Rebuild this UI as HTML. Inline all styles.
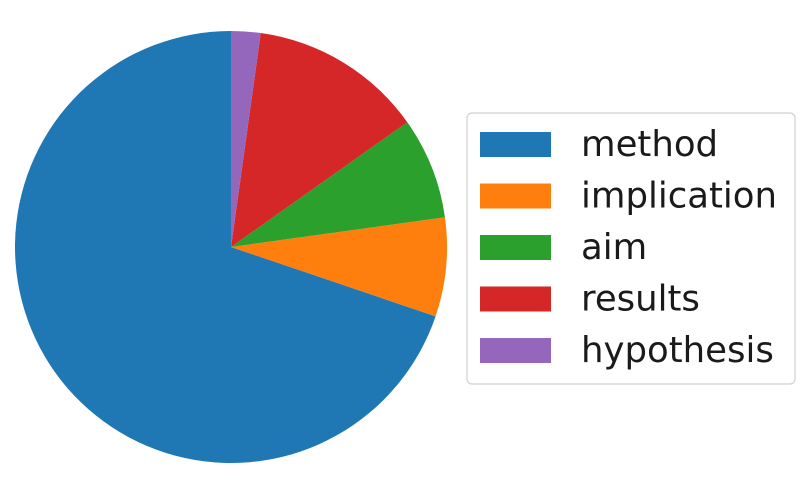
<!DOCTYPE html>
<html>
<head>
<meta charset="utf-8">
<style>
  html,body{margin:0;padding:0;background:#fff;}
  svg{display:block;}
  text{font-family:"DejaVu Sans","Liberation Sans",sans-serif;}
</style>
</head>
<body>
<svg id="chart" width="804" height="499" viewBox="0 0 804 499">
  <g id="slices"></g>
  <g id="legend">
    <rect x="467" y="113" width="328" height="271" rx="5" ry="5" fill="#fff" stroke="#d0d0d0" stroke-width="1.2"></rect>
  </g>
</svg>
<script>
const categories = ["method", "implication", "aim", "results", "hypothesis"];
const values = [69.8, 7.4, 7.6, 13.0, 2.2];
const colors = ["#1f77b4", "#ff7f0e", "#2ca02c", "#d62728", "#9467bd"];

const cx = 231, cy = 247, r = 216;
const total = values.reduce((a, b) => a + b, 0);
const NS = "http://www.w3.org/2000/svg";
const slicesG = document.getElementById("slices");
let start = 90;
function pt(deg) {
  const a = deg * Math.PI / 180;
  return [cx + r * Math.cos(a), cy - r * Math.sin(a)];
}
values.forEach((v, i) => {
  const span = v / total * 360;
  const end = start + span;
  const [x1, y1] = pt(start);
  const [x2, y2] = pt(end);
  const large = span > 180 ? 1 : 0;
  const p = document.createElementNS(NS, "path");
  p.setAttribute("d", `M${cx},${cy} L${x1},${y1} A${r},${r} 0 ${large} 0 ${x2},${y2} Z`);
  p.setAttribute("fill", colors[i]);
  
  
  slicesG.appendChild(p);
  start = end;
});

const legendG = document.getElementById("legend");
categories.forEach((c, i) => {
  const yc = 144 + i * 51.5;
  const sw = document.createElementNS(NS, "rect");
  sw.setAttribute("x", 480); sw.setAttribute("y", yc - 12);
  sw.setAttribute("width", 71); sw.setAttribute("height", 25);
  sw.setAttribute("fill", colors[i]);
  
  
  legendG.appendChild(sw);
  const t = document.createElementNS(NS, "text");
  t.setAttribute("x", 581); t.setAttribute("y", yc + 12);
  t.setAttribute("font-size", "35.5");
  t.setAttribute("fill", "#1a1a1a");
  t.textContent = c;
  
  
  legendG.appendChild(t);
});
</script>
</body>
</html>
